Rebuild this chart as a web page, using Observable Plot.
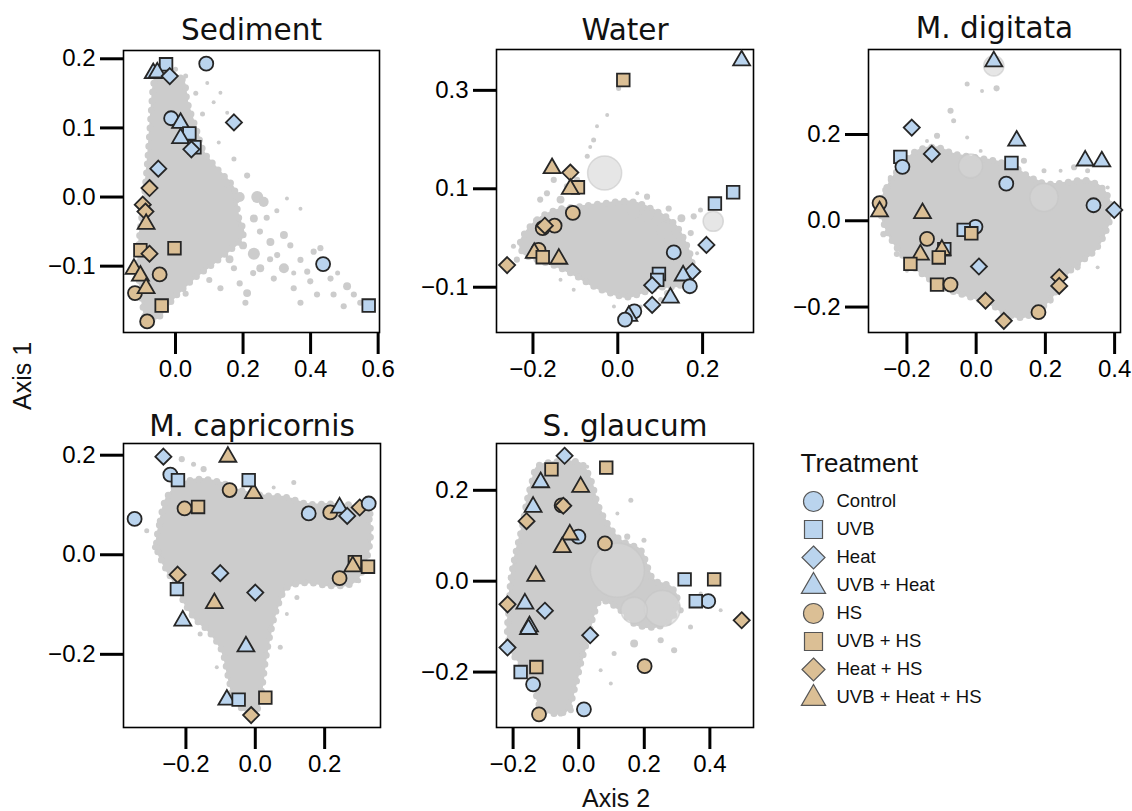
<!DOCTYPE html>
<html><head><meta charset="utf-8">
<script src="https://cdn.jsdelivr.net/npm/d3@7"></script>
<script src="https://cdn.jsdelivr.net/npm/@observablehq/plot@0.6"></script>
<style>
body{margin:0;background:#fff;}
#root{position:relative;width:1132px;height:811px;overflow:hidden;background:#fff;}
.panel{position:absolute;}
.panel svg{overflow:visible;}
.lab{position:absolute;font-family:"Liberation Sans",Arial,sans-serif;font-size:25px;color:#111;white-space:nowrap;}
</style></head><body><div id="root"></div>
<script>
// ---------- categories ----------
const treatments = ["Control","UVB","Heat","UVB + Heat","HS","UVB + HS","Heat + HS","UVB + Heat + HS"];
const blue = "#bad4ee", tan = "#dbbf95";
const fillRange = [blue, blue, blue, blue, tan, tan, tan, tan];

// ---------- treatment points: [treatment index, axis2, axis1] ----------
const sedimentPts = [
 [0,0.091,0.193],[1,-0.028,0.192],[3,-0.066,0.180],[3,-0.054,0.181],[2,-0.017,0.175],
 [0,-0.013,0.114],[3,0.015,0.108],[1,0.041,0.092],[3,0.015,0.086],[1,0.056,0.072],[2,0.047,0.069],
 [2,0.173,0.108],[2,-0.051,0.041],[0,0.437,-0.097],[1,0.572,-0.157],
 [6,-0.077,0.013],[6,-0.097,-0.011],[6,-0.089,-0.021],[7,-0.087,-0.038],[5,-0.104,-0.077],
 [6,-0.077,-0.082],[5,-0.003,-0.074],[7,-0.123,-0.103],[7,-0.104,-0.113],[4,-0.047,-0.112],
 [4,-0.120,-0.139],[7,-0.087,-0.131],[5,-0.041,-0.157],[4,-0.084,-0.180]
];
const waterPts = [
 [3,0.292,0.362],[1,0.272,0.093],[1,0.229,0.070],[2,0.209,-0.014],[2,0.176,-0.068],[3,0.154,-0.075],
 [0,0.132,-0.029],[0,0.170,-0.098],[1,0.097,-0.073],[1,0.093,-0.085],[2,0.081,-0.096],[3,0.124,-0.120],
 [2,0.081,-0.136],[0,0.039,-0.149],[3,0.026,-0.157],[0,0.017,-0.166],
 [5,0.013,0.321],[7,-0.155,0.143],[6,-0.112,0.133],[5,-0.094,0.103],[7,-0.112,0.101],[4,-0.106,0.051],
 [4,-0.149,0.025],[4,-0.177,0.020],[6,-0.172,0.025],[4,-0.187,-0.024],[7,-0.197,-0.029],[5,-0.177,-0.039],
 [7,-0.139,-0.041],[6,-0.261,-0.055]
];
const digitataPts = [
 [3,0.051,0.371],[2,-0.186,0.216],[3,0.117,0.187],[2,-0.128,0.155],[1,-0.219,0.148],[0,-0.213,0.125],
 [1,0.102,0.134],[3,0.315,0.141],[3,0.363,0.139],[0,0.087,0.086],[0,0.339,0.036],[2,0.399,0.025],
 [0,-0.002,-0.014],[1,-0.036,-0.021],[1,-0.092,-0.066],[2,0.008,-0.106],
 [4,-0.279,0.041],[7,-0.279,0.023],[7,-0.155,0.019],[5,-0.014,-0.029],[4,-0.142,-0.042],[7,-0.161,-0.077],
 [7,-0.099,-0.066],[5,-0.108,-0.085],[5,-0.190,-0.100],[5,-0.113,-0.148],[4,-0.074,-0.148],[6,0.027,-0.185],
 [6,0.240,-0.131],[6,0.240,-0.151],[4,0.180,-0.212],[6,0.080,-0.232]
];
const capricornisPts = [
 [7,-0.079,0.198],[4,-0.074,0.130],[7,-0.005,0.125],[4,-0.204,0.093],[5,-0.165,0.096],[4,0.216,0.085],
 [6,0.301,0.095],[5,0.287,-0.015],[7,0.281,-0.022],[5,0.325,-0.024],[4,0.243,-0.047],[6,-0.224,-0.040],
 [7,-0.118,-0.096],[5,0.029,-0.287],[6,-0.012,-0.322],
 [2,-0.265,0.197],[0,-0.245,0.161],[1,-0.223,0.150],[1,-0.019,0.150],[0,-0.348,0.072],[0,0.154,0.083],
 [3,0.243,0.096],[2,0.265,0.078],[0,0.327,0.103],[2,-0.101,-0.037],[1,-0.226,-0.069],[2,0.000,-0.076],
 [3,-0.209,-0.131],[3,-0.027,-0.183],[3,-0.082,-0.290],[1,-0.048,-0.291]
];
const glaucumPts = [
 [2,-0.043,0.276],[3,-0.116,0.219],[3,-0.139,0.165],[0,-0.001,0.098],[1,0.323,0.004],[0,0.395,-0.044],
 [1,0.357,-0.044],[3,-0.164,-0.048],[2,-0.103,-0.065],[3,-0.150,-0.098],[3,-0.153,-0.104],[2,0.035,-0.119],
 [2,-0.217,-0.146],[1,-0.177,-0.200],[0,-0.139,-0.227],[0,0.016,-0.282],
 [5,-0.083,0.246],[5,0.084,0.250],[7,0.006,0.209],[4,-0.052,0.167],[6,-0.047,0.166],[6,-0.159,0.132],
 [7,-0.027,0.104],[7,-0.050,0.076],[4,0.080,0.083],[7,-0.131,0.013],[5,0.413,0.004],[6,-0.217,-0.051],
 [6,0.497,-0.086],[5,-0.129,-0.189],[4,0.201,-0.187],[4,-0.121,-0.293]
];

// ---------- grey background (all taxa): dense cloud outlines [axis2, axis1] ----------
const sedimentCloud = [[-0.054,0.180],[0.020,0.170],[0.035,0.137],[0.064,0.094],[0.084,0.065],[0.123,0.041],[0.173,0.012],[0.185,-0.026],[0.200,-0.055],[0.130,-0.089],[0.054,-0.118],[-0.005,-0.146],[-0.054,-0.175],[-0.084,-0.177],[-0.100,-0.146],[-0.110,-0.103],[-0.106,-0.055],[-0.094,-0.007],[-0.082,0.055],[-0.072,0.122],[-0.064,0.165]];
const waterCloud = [[-0.230,-0.010],[-0.190,0.037],[-0.143,0.057],[-0.088,0.064],[-0.025,0.071],[0.030,0.074],[0.085,0.057],[0.132,0.030],[0.160,-0.010],[0.175,-0.060],[0.150,-0.095],[0.100,-0.100],[0.061,-0.110],[0.022,-0.120],[-0.017,-0.112],[-0.057,-0.098],[-0.096,-0.078],[-0.143,-0.058],[-0.190,-0.044],[-0.222,-0.031]];
const digitataCloud = [[-0.277,0.031],[-0.258,0.077],[-0.219,0.124],[-0.171,0.162],[-0.113,0.170],[-0.065,0.155],[-0.007,0.147],[0.051,0.139],[0.109,0.124],[0.157,0.100],[0.206,0.085],[0.264,0.089],[0.322,0.093],[0.370,0.070],[0.389,0.023],[0.375,-0.023],[0.341,-0.070],[0.293,-0.100],[0.254,-0.131],[0.225,-0.170],[0.177,-0.209],[0.129,-0.224],[0.080,-0.212],[0.032,-0.189],[-0.026,-0.174],[-0.084,-0.158],[-0.142,-0.131],[-0.190,-0.100],[-0.229,-0.062],[-0.258,-0.023]];
const capricornisCloud = [[-0.284,0.015],[-0.274,0.068],[-0.255,0.115],[-0.216,0.142],[-0.159,0.152],[-0.101,0.145],[-0.043,0.129],[0.024,0.119],[0.091,0.115],[0.149,0.102],[0.216,0.102],[0.284,0.098],[0.322,0.082],[0.332,0.042],[0.322,-0.005],[0.303,-0.039],[0.274,-0.059],[0.216,-0.062],[0.149,-0.056],[0.091,-0.066],[0.063,-0.106],[0.043,-0.159],[0.029,-0.213],[0.019,-0.267],[0.005,-0.310],[-0.024,-0.314],[-0.058,-0.293],[-0.077,-0.247],[-0.096,-0.193],[-0.135,-0.153],[-0.173,-0.129],[-0.202,-0.099],[-0.231,-0.059],[-0.260,-0.025]];
const glaucumCloud = [[-0.126,0.252],[-0.065,0.263],[0.006,0.259],[0.037,0.222],[0.057,0.171],[0.087,0.127],[0.128,0.090],[0.189,0.068],[0.209,0.032],[0.230,0.002],[0.280,-0.012],[0.301,-0.042],[0.280,-0.086],[0.230,-0.101],[0.169,-0.093],[0.128,-0.064],[0.067,-0.042],[0.047,-0.071],[0.026,-0.130],[0.006,-0.181],[-0.014,-0.240],[-0.035,-0.284],[-0.075,-0.291],[-0.116,-0.277],[-0.136,-0.233],[-0.167,-0.189],[-0.202,-0.159],[-0.217,-0.115],[-0.212,-0.057],[-0.207,0.002],[-0.192,0.061],[-0.172,0.120],[-0.157,0.178],[-0.141,0.222]];

// ---------- grey background scattered taxa: [axis2, axis1, relative abundance] ----------
const sedimentGrey = [[0.242,0.0,4.6],[0.261,-0.007,3.2],[0.232,-0.031,2],[0.321,-0.055,2],[0.281,-0.065,2],[0.301,-0.084,1.2],[0.232,-0.082,4.6],[0.370,-0.091,1.2],[0.321,-0.103,3.2],[0.409,-0.079,1.2],[0.459,-0.118,1.2],[0.508,-0.129,2],[0.528,-0.141,1.2],[0.468,-0.141,1.2],[0.547,-0.153,1.2],[0.498,-0.158,1.2],[0.419,-0.141,1.2],[0.370,-0.153,1.2],[0.399,-0.122,1.2],[0.212,-0.139,2],[0.207,-0.153,1.2],[0.133,-0.132,1.2],[0.291,-0.118,1.2],[0.350,-0.132,1.2],[0.173,-0.103,1.2],[0.251,-0.103,2],[0.133,0.151,0.5],[0.153,0.122,0.5],[0.094,0.165,0.5],[0.113,0.137,0.5],[0.128,0.079,0.5],[0.173,0.055,0.8],[0.212,0.031,1.2],[0.330,-0.002,0.5],[0.370,-0.017,0.5],[0.429,-0.074,1.2],[0.390,-0.108,1.2],[0.200,-0.070,2],[0.160,-0.090,2],[0.100,-0.120,1.2],[0.030,-0.140,1.2],[0.190,0.000,3.2],[0.150,0.020,2],[0.270,-0.030,1.2],[0.300,-0.020,0.8],[0.250,-0.050,1.2],[0.340,-0.070,1.2],[0.280,-0.090,1.2],[0.230,-0.110,1.2],[0.190,-0.125,1.2],[0.440,-0.100,0.8],[0.480,-0.110,0.8],[0.350,-0.110,0.8],[0.060,0.150,0.8],[0.080,0.120,0.8],[0.030,0.175,0.8],[0.000,0.185,0.8]];
const waterGrey = [[-0.151,0.118,1.2],[-0.167,0.091,1.2],[-0.135,0.078,2],[-0.120,0.105,1.2],[-0.096,0.118,1.2],[-0.072,0.166,0.8],[-0.057,0.199,0.8],[-0.049,0.227,0.5],[-0.025,0.250,0.5],[0.002,0.304,0.8],[-0.065,0.185,0.5],[-0.183,0.078,1.2],[0.179,0.044,1.2],[0.195,0.057,0.8],[0.172,0.010,1.2],[0.156,-0.031,1.2],[0.187,-0.031,0.5],[0.046,0.091,0.5],[0.069,0.084,1.2],[0.116,-0.112,1.2],[0.101,-0.125,0.8],[0.054,-0.139,0.5],[-0.009,-0.139,0.5],[-0.104,-0.105,0.5],[-0.135,-0.085,0.5],[-0.238,-0.044,1.2],[-0.246,-0.017,0.8],[0.038,0.051,4.6],[0.069,0.044,4.6],[0.109,0.017,8],[0.124,-0.004,4.6],[0.150,0.040,2],[0.120,0.060,1.2]];
const digitataGrey = [[-0.026,0.317,0.8],[0.017,0.301,0.5],[0.059,0.307,1.2],[-0.074,0.255,1.2],[-0.065,0.232,0.8],[-0.113,0.197,1.2],[-0.142,0.185,0.5],[-0.026,0.193,0.5],[0.013,0.162,0.5],[0.138,0.139,1.2],[0.196,0.116,0.8],[0.244,0.116,0.5],[0.283,0.124,1.2],[0.322,0.116,0.8],[0.380,0.077,0.5],[0.293,-0.108,1.2],[0.244,-0.093,1.2],[0.351,-0.108,0.5],[0.215,-0.185,1.2],[0.167,-0.216,0.8],[-0.268,-0.031,1.2],[-0.229,-0.077,1.2],[-0.200,-0.116,0.5],[-0.248,0.100,0.8]];
const capricornisGrey = [[-0.212,0.192,1.2],[-0.178,0.182,0.8],[-0.149,0.172,1.2],[0.111,0.145,0.8],[0.053,0.135,0.5],[-0.313,0.048,0.8],[-0.289,0.015,1.2],[0.332,0.082,1.2],[0.337,-0.025,0.5],[0.298,-0.052,0.8],[0.120,-0.086,0.8],[0.091,-0.119,0.5],[0.072,-0.186,0.8],[-0.111,-0.226,0.5],[-0.159,-0.159,0.8],[-0.197,-0.133,0.5]];
const glaucumGrey = [[0.159,0.178,0.8],[0.118,0.149,0.5],[0.148,0.098,1.2],[0.199,0.090,0.8],[0.311,-0.064,1.2],[0.341,-0.101,0.8],[0.291,-0.152,1.2],[0.250,-0.130,1.2],[0.169,-0.137,2],[0.108,-0.159,0.8],[0.098,-0.225,0.5],[0.067,-0.196,0.5],[0.433,-0.064,0.5],[0.372,-0.027,0.5],[-0.024,-0.284,1.2],[0.006,-0.280,0.8],[-0.055,-0.291,1.2],[0.026,0.252,0.5]];
// large, faint taxa
const waterBig = [[-0.031,0.132,37],[0.225,0.034,13]];
const digitataBig = [[0.051,0.359,13],[-0.016,0.127,18],[0.196,0.054,25]];
const glaucumBig = [[0.118,0.024,93],[0.169,-0.064,22],[0.255,-0.060,41]];

// ---------- tick values ----------
const sedimentTicks = {x:[0,0.2,0.4,0.6], y:[-0.1,0,0.1,0.2]};
const waterTicks = {x:[-0.2,0,0.2], y:[-0.1,0.1,0.3]};
const digitataTicks = {x:[-0.2,0,0.2,0.4], y:[-0.2,0,0.2]};
const capricornisTicks = {x:[-0.2,0,0.2], y:[-0.2,0,0.2]};
const glaucumTicks = {x:[-0.2,0,0.2,0.4], y:[-0.2,0,0.2]};

// ---------- symbols ----------
const symCircle = {draw(c, size){ const r = Math.sqrt(size/Math.PI); c.moveTo(r,0); c.arc(0,0,r,0,2*Math.PI); c.closePath(); }};
const symSquare = {draw(c, size){ const r = Math.sqrt(size/Math.PI)*0.9; c.moveTo(-r,-r); c.lineTo(r,-r); c.lineTo(r,r); c.lineTo(-r,r); c.closePath(); }};
const symDiamond = {draw(c, size){ const r = Math.sqrt(size/Math.PI)*1.15; c.moveTo(0,-r); c.lineTo(r,0); c.lineTo(0,r); c.lineTo(-r,0); c.closePath(); }};
const symTriangle = {draw(c, size){ const r = Math.sqrt(size/Math.PI); const w = r*1.21, h = w*Math.sqrt(3); c.moveTo(0,-h*0.62); c.lineTo(w,h*0.38); c.lineTo(-w,h*0.38); c.closePath(); }};
const symbolRange = [symCircle, symSquare, symDiamond, symTriangle, symCircle, symSquare, symDiamond, symTriangle];

const fmt = d3.format(".1f");
const root = document.getElementById("root");
const sansFont = "Liberation Sans, Arial, sans-serif";
const greyCol = "#cccccc";

function panel(cfg){
  const {name, pts, cloud, grey, big, xDomain, yDomain, ticks, box, frame, titleDy} = cfg;
  const [L,T,W,H] = box; const [fx0,fy0,fx1,fy1] = frame;
  const rows = pts.map(([t,x,y]) => ({treatment: treatments[t], x, y}));
  const cl = cloud.map(([x,y]) => ({x,y}));
  const gr = grey.map(([x,y,a]) => ({x,y,a}));
  const bg = (big||[]).map(([x,y,a]) => ({x,y,a}));
  const p = Plot.plot({
    width: W, height: H,
    marginLeft: fx0-L, marginRight: L+W-fx1, marginTop: fy0-T, marginBottom: T+H-fy1,
    x: {domain: xDomain}, y: {domain: yDomain},
    r: {type: "sqrt", domain: [0,100], range: [0,28]},
    symbol: {domain: treatments, range: symbolRange},
    color: {domain: treatments, range: fillRange},
    style: {fontFamily: sansFont, background: "transparent", color: "#000"},
    marks: [
      Plot.line(cl, {x:"x", y:"y", curve:"catmull-rom-closed", fill:greyCol, stroke:greyCol, strokeWidth:2}),
      Plot.line(cl, {x:"x", y:"y", curve:"catmull-rom-closed", fill:"none", stroke:greyCol, strokeWidth:7, strokeDasharray:"0,9", strokeLinecap:"round"}),
      Plot.dot(gr, {x:"x", y:"y", r:"a", fill:greyCol}),
      Plot.dot(bg, {x:"x", y:"y", r:"a", fill:"#d6d6d6", fillOpacity:0.6, stroke:"#c6c6c6", strokeOpacity:0.6}),
      Plot.frame({stroke:"#000", strokeWidth:1.6}),
      Plot.axisX({ticks: ticks.x, tickSize:22, tickPadding:5, strokeWidth:3, tickFormat: fmt, fontSize:24, label:null}),
      Plot.axisY({ticks: ticks.y, tickSize:23, tickPadding:5, strokeWidth:3, tickFormat: fmt, fontSize:24, label:null}),
      Plot.dot(rows, {x:"x", y:"y", symbol:"treatment", fill:"treatment", r:7, stroke:"#262626", strokeWidth:1.8}),
      Plot.text([name], {frameAnchor:"top", dy: titleDy, lineAnchor:"bottom", fontSize:29.5, fontFamily:"DejaVu Sans, Verdana, sans-serif", fill:"#111"})
    ]
  });
  const d = document.createElement("div");
  d.className = "panel"; d.style.left = L+"px"; d.style.top = T+"px";
  d.appendChild(p); root.appendChild(d);
}

panel({name:"Sediment", pts:sedimentPts, cloud:sedimentCloud, grey:sedimentGrey, big:[],
  xDomain:[-0.154,0.604], yDomain:[-0.196,0.212], ticks:sedimentTicks,
  box:[0,0,392,380], frame:[123,50,379,332], titleDy:-11});
panel({name:"Water", pts:waterPts, cloud:waterCloud, grey:waterGrey, big:waterBig,
  xDomain:[-0.286,0.320], yDomain:[-0.192,0.383], ticks:waterTicks,
  box:[392,0,380,380], frame:[496,49,753,332], titleDy:-10});
panel({name:"M. digitata", pts:digitataPts, cloud:digitataCloud, grey:digitataGrey, big:digitataBig,
  xDomain:[-0.311,0.417], yDomain:[-0.259,0.397], ticks:digitataTicks,
  box:[772,0,360,380], frame:[868,49,1120,332], titleDy:-12});
panel({name:"M. capricornis", pts:capricornisPts, cloud:capricornisCloud, grey:capricornisGrey, big:[],
  xDomain:[-0.380,0.361], yDomain:[-0.347,0.2235], ticks:capricornisTicks,
  box:[0,390,392,421], frame:[123,443,380,727], titleDy:-8});
panel({name:"S. glaucum", pts:glaucumPts, cloud:glaucumCloud, grey:glaucumGrey, big:glaucumBig,
  xDomain:[-0.2506,0.533], yDomain:[-0.322,0.303], ticks:glaucumTicks,
  box:[392,390,380,421], frame:[496,443,753,727], titleDy:-8});

// ---------- axis titles ----------
const a1 = document.createElement("div"); a1.className="lab"; a1.textContent="Axis 1";
a1.style.left="22px"; a1.style.top="376px"; a1.style.transform="translate(-50%,-50%) rotate(-90deg)";
root.appendChild(a1);
const a2 = document.createElement("div"); a2.className="lab"; a2.textContent="Axis 2";
a2.style.left="616px"; a2.style.top="798px"; a2.style.transform="translate(-50%,-50%)";
root.appendChild(a2);

// ---------- legend ----------
const leg = Plot.plot({
  width: 352, height: 280, margin: 0,
  y: {type:"point", domain: treatments, range:[61,257], padding:0, axis:null},
  symbol: {domain: treatments, range: symbolRange},
  color: {domain: treatments, range: fillRange},
  style: {fontFamily: sansFont, background:"transparent"},
  marks: [
    Plot.text(["Treatment"], {frameAnchor:"top-left", dx:20, dy:23, lineAnchor:"middle", textAnchor:"start", fontSize:26, fill:"#111"}),
    Plot.dot(treatments, {y: d=>d, symbol: d=>d, fill: d=>d, r:10, frameAnchor:"left", dx:33, stroke:"#555", strokeWidth:1.2}),
    Plot.text(treatments, {y: d=>d, text: d=>d, frameAnchor:"left", dx:56, textAnchor:"start", lineAnchor:"middle", fontSize:18.5, fill:"#111"})
  ]
});
const ld = document.createElement("div"); ld.className="panel"; ld.style.left="780px"; ld.style.top="440px";
ld.appendChild(leg); root.appendChild(ld);
</script></body></html>
